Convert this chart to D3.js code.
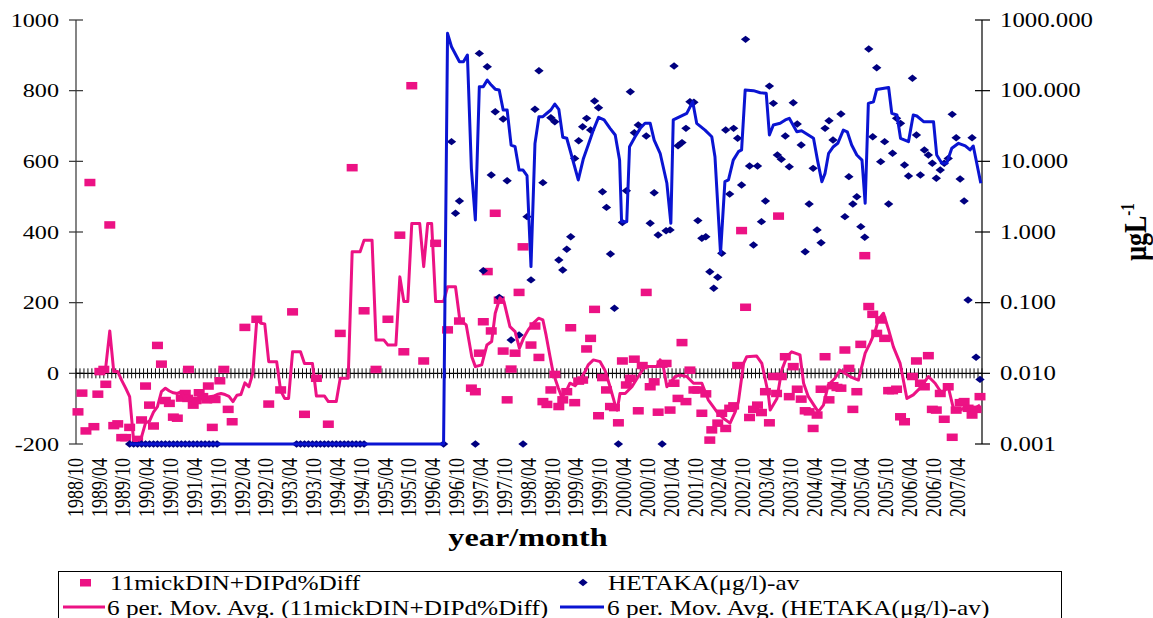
<!DOCTYPE html>
<html>
<head>
<meta charset="utf-8">
<script src="https://cdn.jsdelivr.net/npm/d3@7"></script>
<style>
  body { margin: 0; background: #fff; }
  svg { display: block; }
  svg text { font-family: 'Liberation Serif', 'Times New Roman', Times, 'DejaVu Serif', serif; fill: #000; }
</style>
</head>
<body>
<svg id="chart" width="1153" height="618" font-family="Liberation Serif, Times New Roman, Times, DejaVu Serif, serif"></svg>
<script>
// Months are counted from 1988/10 (month 0).
const monthLabels = [
  "1988/10","1989/04","1989/10","1990/04","1990/10","1991/04","1991/10","1992/04",
  "1992/10","1993/04","1993/10","1994/04","1994/10","1995/04","1995/10","1996/04",
  "1996/10","1997/04","1997/10","1998/04","1998/10","1999/04","1999/10","2000/04",
  "2000/10","2001/04","2001/10","2002/04","2002/10","2003/04","2003/10","2004/04",
  "2004/10","2005/04","2005/10","2006/04","2006/10","2007/04"
];
const leftTicks = [-200, 0, 200, 400, 600, 800, 1000];
const rightTicks = [0.001, 0.01, 0.1, 1, 10, 100, 1000];

// 11mickDIN+DIPd%Diff  [month, value]
const diffObs = [
  [0,-109],[1,-56],[2,-163],[3,540],[4,-151],[5,-59],[5.5,5],[6.5,11],[7,-31],[8,420],
  [9,-148],[10,-143],[11,-182],[12,-182],[13,-153],[15,-187],[16,-132],[17,-36],[18,-90],
  [19,-149],[20,79],[21,26],[22,-77],[23,-85],[24,-124],[25,-127],[26,-70],[27,-57],
  [27.6,-71],[27.8,11],[29,-90],[29.7,-77],[30.5,-55],[31.4,-66],[32.4,-75],[32.8,-36],
  [33.8,-153],[34.5,-74],[35.7,-21],[36.7,11],[37.8,-102],[38.8,-137],[42,130],[45,153],
  [48,-87],[51,-47],[54,174],[57,-116],[60,-14],[63,-144],[66,113],[69,582],[72,177],
  [75,11],[78,153],[81,391],[82,61],[84,814],[87,35],[90,368],[93,123],[96,148],[99,-42],
  [100,-52],[101,57],[102,146],[103,288],[104,120],[105,453],[106,207],[107,63],[108,-75],
  [109,12],[110,57],[111,229],[112,358],[114,80],[115,134],[116,45],[117,-80],[118,-88],
  [119,-47],[120,-3],[121,-94],[122,-75],[123,-52],[124,129],[125,-83],[126,-22],[127,-19],
  [128,69],[129,99],[130,181],[131,-120],[132,-12],[133,-47],[134,-94],[135,-97],[136,-140],
  [137,35],[138,-33],[139,-14],[140,40],[141,-106],[142,22],[143,229],[144,-38],[145,-24],
  [146,-110],[147,26],[148,28],[149,-104],[150,-28],[151,-71],[152,87],[153,-80],[154,9],
  [155,-47],[156,-47],[157,-113],[158,-58],[159,-189],[159.5,-160],[161,-141],[162,-113],
  [163,-156],[164,-99],[165,-92],[166,22],[167,404],[168,187],[169,-125],[170,-102],
  [171,-90],[172,-111],[173,-52],[174,-140],[175,-9],[175.8,-57],[176.3,445],[177,-9],
  [178,47],[179,-66],[180,19],[181,-45],[182,-73],[183,-106],[184,-109],[185,-156],
  [186,-118],[187,-45],[188,47],[189,-75],[190,-35],[191,-40],[192,-42],[193,66],[194,14],
  [195,-102],[196,-52],[197,82],[198,333],[199,189],[200,167],[201,113],[202,151],[203,99],
  [204,-49],[205,-49],[206,-45],[207,-123],[208,-137],[210,-9],[211,35],[212,-28],[213,-38],
  [214,50],[215,-102],[216,-104],[217,-57],[218,-130],[219,-38],[220,-181],[221,-104],
  [222,-83],[223,-80],[224,-99],[225,-118],[226,-102],[227,-66]
];

// 6 per. Mov. Avg. (11mickDIN+DIPd%Diff)  [month, value]
const diffAvg = [
  [5,5],[6,10],[7,19],[8,120],[9,5],[10,5],[11,-20],[12,-42],[13,-66],[14,-190],[15,-190],
  [16,-180],[17,-140],[18,-135],[19,-110],[20,-94],[21,-52],[22,-42],[23,-50],[24,-55],
  [25,-57],[26,-52],[27,-75],[28,-70],[29,-80],[30,-72],[31,-65],[32,-70],[33,-66],
  [34,-65],[35,-60],[36,-57],[37,-60],[38,-65],[39,-80],[40,-62],[41,-60],[42,-27],
  [43,-38],[44,0],[45,153],[46,142],[47,140],[48,33],[49,33],[50,33],[51,-49],[52,-71],
  [53,-71],[54,61],[55,61],[56,61],[57,28],[58,28],[59,28],[60,-64],[61,-64],[62,-64],
  [63,-80],[64,-80],[65,-80],[66,-14],[67,-14],[68,-14],[69,344],[70,344],[71,344],
  [72,377],[73,377],[74,377],[75,94],[76,94],[77,94],[78,80],[79,80],[80,80],[81,273],
  [82,203],[83,203],[84,424],[85,424],[86,424],[87,302],[88,424],[89,424],[90,203],
  [91,203],[92,203],[93,245],[94,245],[95,245],[96.1,151],[97.7,137],[99.1,47],[100,19],
  [101.6,24],[102.9,80],[104.1,90],[105,170],[106.2,214],[107.2,203],[108.7,132],[110,118],
  [111.1,71],[112.1,99],[113.3,123],[114.6,142],[115.9,156],[117,151],[117.8,108],
  [118.8,47],[119.6,0],[120.9,-42],[121.7,-66],[122.6,-57],[123.8,-28],[125.1,-35],
  [126.3,-19],[127.6,5],[128.4,24],[129.7,38],[131.4,33],[132.6,9],[133.9,-38],[135.2,-90],
  [135.7,-104],[136.4,-57],[137.7,-57],[139.4,-38],[141,-9],[142.7,19],[144.4,19],
  [145.7,19],[146.5,38],[147.3,19],[148.2,-38],[150.3,-9],[151.5,-5],[153.2,-9],
  [154.9,-28],[157,-28],[158.6,-75],[160.8,-109],[162.4,-127],[164.1,-141],[165.4,-109],
  [166.2,-80],[167.5,28],[168.3,47],[170.8,49],[172.1,28],[173.7,-57],[174.2,-104],
  [175.9,-71],[177.1,9],[178.4,47],[179.6,61],[181.7,52],[182.6,-28],[183.8,-66],
  [186.3,-109],[187.6,-90],[188.8,-33],[190.5,-14],[191.8,9],[193,0],[194.3,-9],
  [196.4,-19],[198.1,57],[199.3,85],[200.6,118],[201.4,151],[202.7,170],[204,123],
  [205.2,75],[206.9,28],[208.6,-71],[210.2,-61],[211.9,-42],[214,-9],[215.7,-28],
  [217.4,-57],[219,-38],[220.3,-99],[222,-104],[223.7,-94],[225.7,-99],[227,-90]
];

// HETAKA(μg/l)-av  [month, value]
const hetakaObs = [
  [13,0.001],[14,0.001],[15,0.001],[16,0.001],[17,0.001],[18,0.001],[19,0.001],[20,0.001],
  [21,0.001],[22,0.001],[23,0.001],[24,0.001],[25,0.001],[26,0.001],[27,0.001],[28,0.001],
  [29,0.001],[30,0.001],[31,0.001],[32,0.001],[33,0.001],[34,0.001],[35,0.001],
  [55,0.001],[56,0.001],[57,0.001],[58,0.001],[59,0.001],[60,0.001],[61,0.001],[62,0.001],
  [63,0.001],[64,0.001],[65,0.001],[66,0.001],[67,0.001],[68,0.001],[69,0.001],[70,0.001],
  [71,0.001],[72,0.001],
  [92,0.001],[94,19.0],[95,1.84],[96,2.75],[100,0.001],[101,337],[102,0.283],[103,218],
  [104,6.4],[105,50.4],[106,0.119],[107,39.7],[108,5.3],[109,0.0296],[111,0.0348],
  [112,0.001],[113,1.65],[114,0.21],[115,54.5],[116,191],[117,4.99],[119,41.4],[120,36.4],
  [121,0.402],[122,0.29],[123,0.569],[124,0.857],[125,11.0],[126,19.6],[127,30.9],
  [128,40.6],[129,27.7],[130,71.4],[131,57.4],[132,3.72],[133,2.23],[134,0.489],
  [135,0.0832],[136,0.001],[137,1.36],[138,3.84],[139,96.6],[140,25.4],[141,32.7],
  [143,22.8],[144,1.33],[145,3.6],[146,0.906],[147,0.001],[148,1.04],[149,1.07],[150,223],
  [151,16.6],[152,18.4],[153,29.3],[154,69.8],[155,68.4],[156,1.45],[157,0.815],
  [158,0.857],[159,0.274],[160,0.16],[161,0.229],[162,0.499],[163,27.7],[164,3.44],
  [165,29.3],[166,21.2],[167,4.62],[168,532],[169,8.59],[170,0.655],[171,8.59],[172,1.40],
  [173,2.75],[174,116],[175,66.2],[176,12.3],[177,10.7],[178,22.8],[179,8.39],[180,67.6],
  [181,33.7],[182,17.0],[183,0.526],[184,2.49],[185,7.96],[186,1.07],[187,0.706],
  [188,29.3],[189,37.6],[190,20.0],[192,46.8],[193,1.65],[194,6.07],[195,2.49],[196,3.16],
  [197,1.19],[198,0.841],[199,388],[200,22.3],[201,211],[202,9.89],[203,19.0],[204,2.49],
  [205,13.0],[206,40.6],[207,34.5],[208,8.87],[209,6.19],[210,150],[211,23.6],[212,6.4],
  [213,14.5],[214,12.3],[215,9.38],[216,5.75],[217,7.53],[218,9.38],[219,11.0],[220,46.2],
  [221,21.6],[222,5.62],[223,2.75],[224,0.109],[225,21.6],[226,0.0169],[227,0.0082]
];

// 6 per. Mov. Avg. (HETAKA(μg/l)-av)  [month, value]
const hetakaAvg = [
  [13,0.001],[92,0.001],[93,647],[94,419],[96,257],[97,257],[98,320],[99,7.9],[100,1.48],
  [101,114],[102,114],[103,141],[104,120],[105,105],[106,102],[107,53.2],[108,53.2],
  [109,17.0],[110,16.1],[111,7.53],[112,7.53],[113,6.3],[114,0.324],[115,17.8],[116,42.8],
  [117,42.8],[118,47.9],[119,53.2],[120,64.7],[121,54.5],[122,21.9],[123,21.2],
  [124.3,11.6],[125.9,5.45],[127.2,11.0],[128.4,17.0],[129.7,27.7],[131,41.9],[132.4,38.5],
  [133.9,29.3],[135.2,23.6],[136.3,10.4],[136.8,1.40],[138.1,1.40],[138.8,16.1],
  [140.2,22.3],[141.5,29.3],[142.7,34.5],[144,34.5],[145,20.0],[146.5,13.0],[148.2,4.89],
  [149.2,1.33],[149.8,38.5],[151.5,42.8],[153.2,47.8],[154.7,69.8],[155.7,34.5],
  [157.8,27.7],[159.5,22.3],[160.3,11.6],[161.7,0.499],[162.8,5.15],[163.7,5.45],
  [164.9,10.4],[166.2,13.7],[167,14.5],[167.9,102],[170,100],[171.7,93.5],[173.2,91.8],
  [174,23.6],[175,32.7],[176.7,34.5],[178,38.5],[179,40.6],[180.9,26.2],[182.1,27.1],
  [183.8,23.6],[185.1,21.2],[186.1,10.4],[187.2,5.15],[188,6.76],[188.9,13.0],[190.1,16.1],
  [191.2,18.0],[192.6,27.7],[193.6,26.2],[194.7,17.0],[196,12.3],[197.3,10.4],[198.1,2.55],
  [198.9,66.2],[200.2,69.8],[201,104],[204,111],[204.8,47.8],[206.1,45.2],[207,21.2],
  [209,19.0],[210.2,45.2],[211.1,43.8],[212.8,36.4],[215.3,36.4],[216.1,12.3],
  [217.4,9.38],[218.6,9.38],[219.9,15.3],[221.6,18.0],[223.3,16.5],[224.5,14.5],
  [225.3,16.5],[227.2,4.89]
];

const STRETCH = 1.24;              // glyphs are drawn wider than tall
const SERIF = "'Liberation Serif', 'Times New Roman', Times, 'DejaVu Serif', serif";
const PINK = "#ec1284", BLUE = "#0a14d2", NAVY = "#000080";

const svg = d3.select("#chart");

const x = d3.scaleLinear().domain([-0.5, 227.5]).range([76, 982]);
const yL = d3.scaleLinear().domain([-200, 1000]).range([444, 20]);
const yR = d3.scaleLog().domain([0.001, 1000]).range([444, 20]);

function stretchedText(g, px, py, rot, str, opts) {
  const t = g.append("text")
    .attr("transform", `translate(${px},${py}) scale(${STRETCH},1)` + (rot ? ` rotate(${rot})` : ""))
    .attr("font-family", SERIF)
    .attr("font-size", opts.size)
    .attr("text-anchor", opts.anchor || "start")
    .text(str);
  if (opts.bold) t.attr("font-weight", "bold");
  if (opts.dy) t.attr("dy", opts.dy);
  return t;
}

// ---- axes ----
const axes = svg.append("g");

// left value axis
axes.append("line").attr("x1", 76).attr("x2", 76).attr("y1", yL(1000)).attr("y2", yL(-200))
  .attr("stroke", "#333").attr("stroke-width", 1.2);
leftTicks.forEach(v => {
  axes.append("line").attr("x1", 69).attr("x2", 83).attr("y1", yL(v)).attr("y2", yL(v))
    .attr("stroke", "#333").attr("stroke-width", 1.2);
  stretchedText(axes, 59, yL(v), 0, String(v), { size: 19.5, anchor: "end", dy: "0.34em" });
});

// right log axis
axes.append("line").attr("x1", 982).attr("x2", 982).attr("y1", yR(1000)).attr("y2", yR(0.001))
  .attr("stroke", "#000").attr("stroke-width", 1.2);
rightTicks.forEach(v => {
  axes.append("line").attr("x1", 975).attr("x2", 990).attr("y1", yR(v)).attr("y2", yR(v))
    .attr("stroke", "#000").attr("stroke-width", 1.2);
  stretchedText(axes, 1000, yR(v), 0, d3.format(".3f")(v), { size: 20, anchor: "start", dy: "0.34em" });
});

// category axis along the zero line, one cross tick per month
axes.append("line").attr("x1", 76).attr("x2", 982).attr("y1", yL(0)).attr("y2", yL(0))
  .attr("stroke", "#000").attr("stroke-width", 1.2);
axes.selectAll("line.mtick").data(d3.range(0, 229)).join("line")
  .attr("class", "mtick")
  .attr("x1", k => x(k - 0.5)).attr("x2", k => x(k - 0.5))
  .attr("y1", yL(0) - 5).attr("y2", yL(0) + 5)
  .attr("stroke", "#111").attr("stroke-width", 1);

// month labels every six months
monthLabels.forEach((lab, j) => {
  stretchedText(axes, x(j * 6) - 3, 458, -90, lab, { size: 18, anchor: "end" })
    .attr("dominant-baseline", "central");
});

// axis titles
stretchedText(axes, 528, 546, 0, "year/month", { size: 26, anchor: "middle", bold: true });
const yt = stretchedText(axes, 1146, 232, -90, "", { size: 26, anchor: "middle", bold: true });
yt.append("tspan").text("μgL");
yt.append("tspan").attr("font-size", 15).attr("dy", -10).text("-1");

// ---- series ----
const plot = svg.append("g");

plot.selectAll("rect.diff").data(diffObs).join("rect")
  .attr("class", "diff")
  .attr("x", d => x(d[0]) - 5.5).attr("y", d => yL(d[1]) - 3.75)
  .attr("width", 11).attr("height", 7.5)
  .attr("fill", PINK);

const diamond = (cx, cy) => `M${cx},${cy - 3.7}L${cx + 4.7},${cy}L${cx},${cy + 3.7}L${cx - 4.7},${cy}Z`;
plot.selectAll("path.hetaka").data(hetakaObs).join("path")
  .attr("class", "hetaka")
  .attr("d", d => diamond(x(d[0]), yR(d[1])))
  .attr("fill", NAVY);

const lineL = d3.line().x(d => x(d[0])).y(d => yL(d[1]));
const lineR = d3.line().x(d => x(d[0])).y(d => yR(d[1]));

plot.append("path").datum(diffAvg).attr("d", lineL)
  .attr("fill", "none").attr("stroke", PINK).attr("stroke-width", 3).attr("stroke-linejoin", "round");
plot.append("path").datum(hetakaAvg).attr("d", lineR)
  .attr("fill", "none").attr("stroke", BLUE).attr("stroke-width", 3).attr("stroke-linejoin", "round");

// ---- legend ----
const lg = svg.append("g");
lg.append("rect").attr("x", 58.5).attr("y", 571.5).attr("width", 1003).attr("height", 70)
  .attr("fill", "#fff").attr("stroke", "#000").attr("stroke-width", 1);

lg.append("rect").attr("x", 80).attr("y", 579).attr("width", 11).attr("height", 7.5).attr("fill", PINK);
stretchedText(lg, 110, 590, 0, "11mickDIN+DIPd%Diff", { size: 20.4 });

lg.append("path").attr("d", diamond(583, 582.5)).attr("fill", NAVY);
stretchedText(lg, 608, 590, 0, "HETAKA(μg/l)-av", { size: 20.4 });

lg.append("line").attr("x1", 63).attr("x2", 105).attr("y1", 607).attr("y2", 607)
  .attr("stroke", PINK).attr("stroke-width", 3);
stretchedText(lg, 107, 615, 0, "6 per. Mov. Avg. (11mickDIN+DIPd%Diff)", { size: 20.4 });

lg.append("line").attr("x1", 560).attr("x2", 604).attr("y1", 607).attr("y2", 607)
  .attr("stroke", BLUE).attr("stroke-width", 3);
stretchedText(lg, 607, 615, 0, "6 per. Mov. Avg. (HETAKA(μg/l)-av)", { size: 20.4 });
</script>
</body>
</html>
